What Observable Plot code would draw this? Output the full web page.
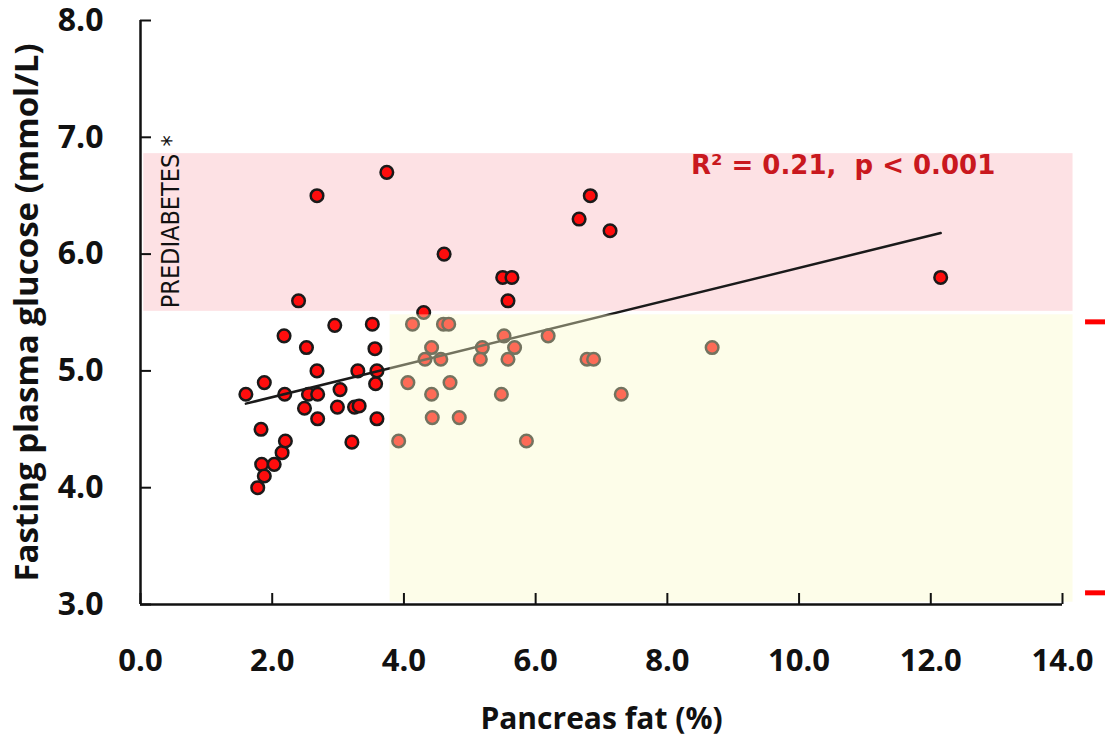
<!DOCTYPE html>
<html><head><meta charset="utf-8">
<script src="https://cdn.jsdelivr.net/npm/d3@7"></script>
<script src="https://cdn.jsdelivr.net/npm/@observablehq/plot@0.6"></script>
<style>html,body{margin:0;padding:0;background:#fff;} svg{display:block}</style>
</head><body><div id="chart"></div>
<script>
// Pancreas fat (%) and fasting plasma glucose (mmol/L)
const fatPct = [
  1.60, 1.88, 1.83, 1.84, 1.88, 1.78, 2.03, 2.15, 2.20, 2.19, 2.18, 2.52, 2.49, 2.55, 2.69,
  2.68, 2.69, 2.95, 2.99, 3.03, 3.25, 3.32, 3.30, 3.21, 3.52, 3.56, 3.59, 3.57, 3.59,
  2.40, 2.68, 3.74, 4.30, 4.61, 5.50, 5.64, 5.58, 6.83, 6.66, 7.13, 12.15,
  4.13, 4.60, 4.68, 5.52, 6.19, 4.42, 5.19, 5.68, 8.68, 4.32, 4.56, 5.16, 5.58, 6.78, 6.88,
  4.06, 4.70, 4.42, 5.48, 7.30, 4.43, 4.84, 3.92, 5.86
];
const glucose = [
  4.80, 4.90, 4.50, 4.20, 4.10, 4.00, 4.20, 4.30, 4.40, 4.80, 5.30, 5.20, 4.68, 4.80, 4.80,
  5.00, 4.59, 5.39, 4.69, 4.84, 4.69, 4.70, 5.00, 4.39, 5.40, 5.19, 5.00, 4.89, 4.59,
  5.60, 6.50, 6.70, 5.50, 6.00, 5.80, 5.80, 5.60, 6.50, 6.30, 6.20, 5.80,
  5.40, 5.40, 5.40, 5.30, 5.30, 5.20, 5.20, 5.20, 5.20, 5.10, 5.10, 5.10, 5.10, 5.10, 5.10,
  4.90, 4.90, 4.80, 4.80, 4.80, 4.60, 4.60, 4.40, 4.40
];
const xTicks = [0, 2, 4, 6, 8, 10, 12, 14];
const yTicks = [3, 4, 5, 6, 7, 8];
const trendFat = [1.60, 12.15];
const trendGlucose = [4.72, 6.18];
const prediabetesX = [0.05, 14.16];
const prediabetesY = [5.51, 6.86];
const shadeX = [3.79, 14.16];
const shadeY = [3.02, 5.48];
const sideMarksY = [5.42, 3.10];
const sideMarksX = [14.35, 14.70];
const statText = "R\u00b2 = 0.21,\u00a0 p < 0.001";
const statPos = [8.36, 6.69];
const bandLabel = "PREDIABETES *";
const bandLabelPos = [0.586, 5.536];
const xTitle = "Pancreas fat (%)";
const yTitle = "Fasting plasma glucose (mmol/L)";

const points = fatPct.map((f, i) => ({fat: f, glu: glucose[i]}));
const trend = trendFat.map((f, i) => ({fat: f, glu: trendGlucose[i]}));
const band = [{x1: prediabetesX[0], x2: prediabetesX[1], y1: prediabetesY[0], y2: prediabetesY[1]}];
const shade = [{x1: shadeX[0], x2: shadeX[1], y1: shadeY[0], y2: shadeY[1]}];
const sideMarks = sideMarksY.map(y => ({y, x1: sideMarksX[0], x2: sideMarksX[1]}));

const fmt = d => d.toFixed(1);
const humanist = "'Open Sans', 'Noto Sans', sans-serif";

const chart = Plot.plot({
  width: 1105,
  height: 741,
  marginLeft: 140,
  marginRight: 43,
  marginTop: 20,
  marginBottom: 137,
  x: {domain: [0, 14]},
  y: {domain: [3, 8]},
  marks: [
    Plot.rect(band, {x1: "x1", x2: "x2", y1: "y1", y2: "y2", fill: "#fde1e4"}),
    Plot.dot(points, {x: "fat", y: "glu", r: 6.3, fill: "#ff0d0d", stroke: "#1a1a1a", strokeWidth: 2.5}),
    Plot.line(trend, {x: "fat", y: "glu", stroke: "#1a1a1a", strokeWidth: 2.5}),
    Plot.rect(shade, {x1: "x1", x2: "x2", y1: "y1", y2: "y2", fill: "rgb(250,250,200)", fillOpacity: 0.4}),
    Plot.ruleX([0], {y1: 3, y2: 8, stroke: "#111", strokeWidth: 2.5}),
    Plot.ruleY([3], {x1: 0, x2: 14, stroke: "#111", strokeWidth: 2.5}),
    Plot.axisY({ticks: yTicks, tickSize: 11, dx: 11, fill: "none", stroke: "#111", strokeWidth: 2, label: null}),
    Plot.axisX({ticks: xTicks, tickSize: 11, dy: -11, fill: "none", stroke: "#111", strokeWidth: 2, label: null}),
    Plot.axisY({ticks: yTicks, tickSize: 0, tickPadding: 37, tickFormat: fmt, label: null,
      fontSize: 32, fontWeight: 700, fontFamily: humanist, fill: "#111"}),
    Plot.axisX({ticks: xTicks, tickSize: 0, tickPadding: 44, tickFormat: fmt, label: null,
      fontSize: 31, fontWeight: 700, fontFamily: humanist, fill: "#111"}),
    Plot.text([xTitle], {frameAnchor: "bottom", dy: 124, lineAnchor: "bottom",
      fontSize: 30, fontWeight: 700, fontFamily: humanist, fill: "#111"}),
    Plot.text([yTitle], {frameAnchor: "left", rotate: -90, dx: -113, textAnchor: "middle", lineAnchor: "middle",
      fontSize: 33, fontWeight: 700, fontFamily: humanist, fill: "#111"}),
    Plot.text([bandLabel], {x: [bandLabelPos[0]], y: [bandLabelPos[1]], rotate: -90, textAnchor: "start", lineAnchor: "bottom",
      fontSize: 25, fontFamily: "'Liberation Sans Narrow', 'DejaVu Sans Condensed', sans-serif", fill: "#111"}),
    Plot.text([statText], {x: [statPos[0]], y: [statPos[1]], textAnchor: "start", lineAnchor: "bottom",
      fontSize: 26, fontWeight: 700, fontFamily: "'DejaVu Sans', sans-serif", fill: "#c9181e"}),
    Plot.ruleY(sideMarks, {y: "y", x1: "x1", x2: "x2", stroke: "#ff0000", strokeWidth: 5})
  ]
});
document.getElementById("chart").appendChild(chart);
</script>
</body></html>
